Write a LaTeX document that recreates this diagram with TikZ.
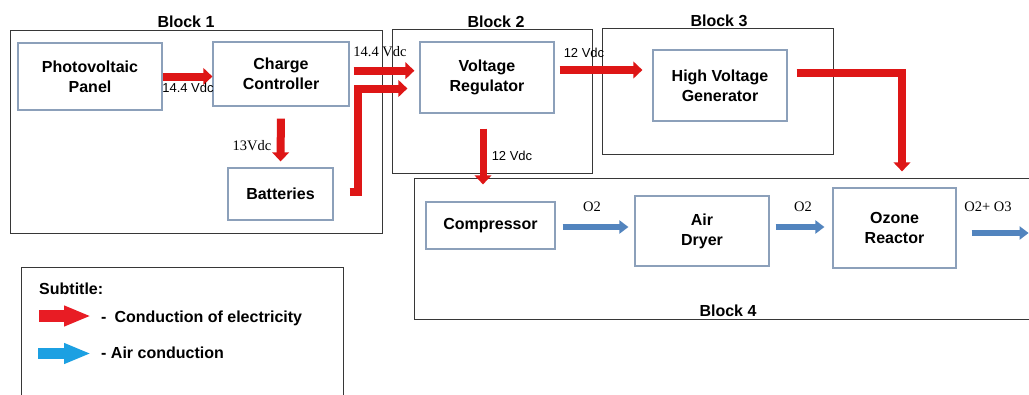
\documentclass[tikz,border=0pt]{standalone}
\usepackage{fontspec}
\setmainfont{Liberation Sans}
\newfontfamily\tnr{Liberation Serif}
\usetikzlibrary{arrows.meta,calc}
\definecolor{elecred}{RGB}{222,22,22}
\definecolor{airblue}{RGB}{82,132,190}
\definecolor{legred}{RGB}{232,28,36}
\definecolor{legblue}{RGB}{28,160,226}
\definecolor{boxline}{RGB}{140,160,186}
\definecolor{frameline}{RGB}{55,55,55}
\begin{document}
\begin{tikzpicture}[x=1pt,y=-1pt,
 box/.style={draw=boxline,line width=1.2pt,fill=white,inner sep=0pt,align=center,font=\bfseries\fontsize{16pt}{20pt}\selectfont},
 frame/.style={draw=frameline,line width=1pt},
 blocklabel/.style={font=\bfseries\fontsize{16pt}{20pt}\selectfont,inner sep=0pt},
 elec/.style={draw=elecred,line width=8pt,line join=miter,-{Triangle[length=9pt,width=16.5pt]}},
 air/.style={draw=airblue,line width=5.5pt,-{Triangle[length=9pt,width=13pt]}},
 serlabel/.style={font=\tnr\fontsize{14.5pt}{17pt}\selectfont,inner sep=0pt},
 sanslabel/.style={font=\fontsize{13pt}{16pt}\selectfont,inner sep=0pt},
 legtext/.style={font=\bfseries\fontsize{16pt}{20pt}\selectfont,inner sep=0pt,anchor=west},
]
\useasboundingbox (0,0) rectangle (1029,394);
\clip (0,0) rectangle (1029,394);
\fill[white] (0,0) rectangle (1029,394);

% block frames
\draw[frame] (10,30) rectangle (382,233);
\draw[frame] (392,29) rectangle (592,173);
\draw[frame] (602,28) rectangle (833,154);
\draw[frame] (414,178) rectangle (1040,319);
\draw[frame] (21,267) rectangle (343,400);

% block labels
\node[blocklabel] (b1l) at (186,22) {Block 1};
\node[blocklabel] (b2l) at (496,22) {Block 2};
\node[blocklabel] (b3l) at (719,21) {Block 3};
\node[blocklabel] (b4l) at (728,311) {Block 4};

% boxes
\node[box,minimum width=144pt,minimum height=67pt] (pv) at (90,76.5) {Photovoltaic\\Panel};
\node[box,minimum width=136pt,minimum height=64pt] (cc) at (281,74) {Charge\\Controller};
\node[box,minimum width=105pt,minimum height=52pt] (bat) at (280.5,194) {Batteries};
\node[box,minimum width=134pt,minimum height=71pt] (vr) at (487,77.5) {Voltage\\Regulator};
\node[box,minimum width=134pt,minimum height=71pt] (hvg) at (720,85.5) {High Voltage\\Generator};
\node[box,minimum width=129pt,minimum height=47pt] (comp) at (490.5,225.5) {Compressor};
\node[box,minimum width=134pt,minimum height=70pt] (dry) at (702,231) {Air\\Dryer};
\node[box,minimum width=123pt,minimum height=80pt] (oz) at (894.5,228) {Ozone\\Reactor};

% electric connectors
\draw[elec] (pv.east) -- (pv.east -| cc.west);
\draw[elec,shorten <=12pt,shorten >=6pt] (cc.south) -- (bat.north);
\coordinate (a3) at ($(cc.east)+(4,-3.3)$);
\draw[elec,shorten >=5pt] (a3) -- (a3 -| vr.west);
\coordinate (a4) at ($(bat.east)+(16,-2)$);
\coordinate (a4b) at ($(vr.west)+(-12,11)$);
\draw[elec] (a4) -- ++(8,0) |- (a4b);
\coordinate (a5) at ($(vr.east)+(5,-7.5)$);
\draw[elec,shorten >=10pt] (a5) -- (a5 -| hvg.west);
\coordinate (a6) at ($(vr.south)+(-4,15)$);
\draw[elec,line width=7pt,shorten >=17pt] (a6) -- (a6 |- comp.north);
\coordinate (a7) at ($(hvg.east)+(9,-12.5)$);
\coordinate (a7b) at ($(oz.north)+(7.5,-16)$);
\draw[elec,line width=8.5pt] (a7) -| (a7b);

% air connectors
\coordinate (c1) at ($(comp.east)+(7,1.5)$);
\draw[air,shorten >=6pt] (c1) -- (c1 -| dry.west);
\coordinate (c2) at ($(dry.east)+(6,-4)$);
\draw[air,shorten >=8pt] (c2) -- (c2 -| oz.west);
\coordinate (c3) at ($(oz.east)+(15,5)$);
\coordinate (c3b) at ($(c3)+(57,0)$);
\draw[air] (c3) -- (c3b);

% connector labels
\node[sanslabel] (l1) at (188,88) {14.4 Vdc};
\node[serlabel] (l2) at (252,146) {13Vdc};
\node[serlabel] (l3) at (380,52) {14.4 Vdc};
\node[sanslabel] (l4) at (584,53) {12 Vdc};
\node[sanslabel] (l5) at (512,156) {12 Vdc};
\node[serlabel] (l6) at (592,207) {O2};
\node[serlabel] (l7) at (803,207) {O2};
\node[serlabel] (l8) at (988,207) {O2+ O3};

% legend
\node[legtext] (subt) at (39,289) {Subtitle:};
\coordinate (lr1) at (39,316);
\coordinate (lr2) at (91,316);
\draw[draw=legred,line width=12pt,-{Triangle[length=27pt,width=19pt]}] (lr1) -- (lr2);
\coordinate (lb1) at (38,353.5);
\coordinate (lb2) at (91,353.5);
\draw[draw=legblue,line width=11pt,-{Triangle[length=27pt,width=19pt]}] (lb1) -- (lb2);
\node[legtext] (lt1) at (101,318) {-\hspace{8pt}Conduction of electricity};
\node[legtext] (lt2) at (101,353) {- Air conduction};
\end{tikzpicture}
\end{document}
